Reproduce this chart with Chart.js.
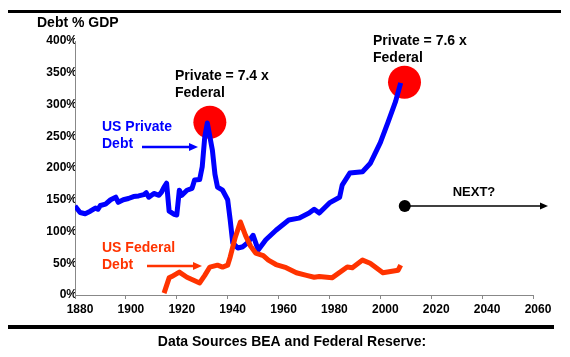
<!DOCTYPE html>
<html><head><meta charset="utf-8">
<script src="https://cdn.jsdelivr.net/npm/chart.js@4.4.0/dist/chart.umd.min.js"></script>
<style>html,body{margin:0;padding:0;background:#fff;overflow:hidden}canvas{display:block}</style>
</head><body>
<canvas id="c" width="570" height="357"></canvas>
<script>
// ---- data ----
const privateYears = [1880,1882,1884,1886,1888,1889,1890,1892,1894,1896,1897,1899,1901,1903,1905,1907,1908,1909,1911,1913,1914,1915,1916,1917,1919,1920,1921,1922,1924,1926,1927,1929,1930,1931,1932,1934,1935,1936,1938,1940,1941,1942,1944,1946,1948,1950,1952,1955,1959,1964,1968,1972,1974,1976,1980,1984,1985,1988,1993,1996,2000,2003,2006,2008];
const privateDebt  = [140,130,128,132,137,135,141,143,150,154,146,150,152,155,156,158,161,154,160,157,162,170,176,132,127,126,165,157,165,168,181,182,202,249,271,228,190,170,165,150,118,82,74,76,83,94,71,87,102,118,121,129,135,129,145,154,173,192,194,207,240,272,305,334];
const federalYears = [1915,1917,1918,1921,1924,1929,1931,1933,1936,1938,1940,1941,1943,1945,1947,1949,1951,1954,1956,1959,1963,1967,1971,1974,1976,1981,1987,1989,1993,1996,2001,2004,2007,2008];
const federalDebt  = [3,27,29,36,28,19,31,44,47,44,47,60,91,115,94,77,66,62,55,48,43,35,31,28,29,27,44,43,55,50,35,37,39,47];
const xTickValues = [1880,1900,1920,1940,1960,1980,2000,2020,2040,2060];
const yTickValues = [0,50,100,150,200,250,300,350,400];
const peakYears  = [1933, 2009.5];
const peakValues = [272, 335];
const nextYear = 2009.6, nextValue = 140;

const FONT = '"Liberation Sans", Arial, Helvetica, sans-serif';

function arrow(ctx, x1, y1, x2, y2, color, lw, hl, hw){
  ctx.strokeStyle = color; ctx.fillStyle = color; ctx.lineWidth = lw;
  ctx.beginPath(); ctx.moveTo(x1, y1); ctx.lineTo(x2 - hl + 1, y2); ctx.stroke();
  ctx.beginPath(); ctx.moveTo(x2, y2); ctx.lineTo(x2 - hl, y2 - hw); ctx.lineTo(x2 - hl, y2 + hw); ctx.closePath(); ctx.fill();
}

const annot = {
  id: 'annot',
  beforeDatasetsDraw(chart){
    const ctx = chart.ctx, xs = chart.scales.x, ys = chart.scales.y;
    ctx.save();
    ctx.fillStyle = '#FF0000';
    peakYears.forEach((yr, i) => {
      ctx.beginPath();
      ctx.arc(xs.getPixelForValue(yr), ys.getPixelForValue(peakValues[i]), 16.5, 0, Math.PI * 2);
      ctx.fill();
    });
    ctx.restore();
  },
  afterDraw(chart){
    const ctx = chart.ctx, xs = chart.scales.x, ys = chart.scales.y;
    ctx.save();
    ctx.fillStyle = '#000';
    ctx.fillRect(8, 10, 553, 3);
    ctx.fillRect(8, 325, 546, 4);
    ctx.textBaseline = 'middle';
    ctx.textAlign = 'left';
    ctx.font = 'bold 14px ' + FONT;
    ctx.fillText('Debt % GDP', 37, 23);
    ctx.fillText('Private = 7.4 x', 175, 76);
    ctx.fillText('Federal', 175, 93);
    ctx.fillText('Private = 7.6 x', 373, 41);
    ctx.fillText('Federal', 373, 58);
    ctx.fillStyle = '#0000FF';
    ctx.fillText('US Private', 102, 127);
    ctx.fillText('Debt', 102, 144);
    ctx.fillStyle = '#FF3300';
    ctx.fillText('US Federal', 102, 248);
    ctx.fillText('Debt', 102, 265);
    ctx.fillStyle = '#000';
    ctx.textAlign = 'center';
    ctx.fillText('Data Sources BEA and Federal Reserve:', 292, 342);
    ctx.font = 'bold 13px ' + FONT;
    ctx.fillText('NEXT?', 474, 192);
    arrow(ctx, 142, 147, 198, 147, '#0000FF', 2.5, 9, 4);
    arrow(ctx, 147, 266, 202, 266, '#FF3300', 2.5, 9, 4);
    const nx = xs.getPixelForValue(nextYear), ny = ys.getPixelForValue(nextValue);
    arrow(ctx, nx, ny, 548, ny, '#000', 1.5, 8, 3.5);
    ctx.fillStyle = '#000';
    ctx.beginPath(); ctx.arc(nx, ny, 6, 0, Math.PI * 2); ctx.fill();
    ctx.restore();
  }
};

new Chart(document.getElementById('c'), {
  type: 'line',
  data: {
    datasets: [
      { label: 'US Federal Debt', data: federalYears.map((x, i) => ({x, y: federalDebt[i]})),
        borderColor: '#FF3300', borderWidth: 5, pointRadius: 0, tension: 0, order: 0,
        borderJoinStyle: 'round', fill: false },
      { label: 'US Private Debt', data: privateYears.map((x, i) => ({x, y: privateDebt[i]})),
        borderColor: '#0000FF', borderWidth: 5, pointRadius: 0, tension: 0, order: 1,
        borderJoinStyle: 'round', fill: false }
    ]
  },
  options: {
    responsive: false, animation: false, devicePixelRatio: 1,
    layout: { padding: { top: 41, right: 37, bottom: 0, left: 0 } },
    plugins: { legend: { display: false }, tooltip: { enabled: false } },
    scales: {
      x: {
        type: 'linear', min: 1880, max: 2060,
        afterBuildTicks: s => { s.ticks = xTickValues.map(v => ({value: v})); },
        afterFit: s => { s.height = 62; },
        grid: { display: true, drawOnChartArea: false, drawTicks: true, tickLength: 4, color: '#888' },
        border: { display: true, color: '#888', dash: [2, 2], width: 1 },
        ticks: { color: '#000', font: { family: FONT, size: 12, weight: 'bold' }, padding: 3, labelOffset: 5, maxRotation: 0, autoSkip: false, callback: v => String(v) }
      },
      y: {
        min: 0, max: 400,
        afterBuildTicks: s => { s.ticks = yTickValues.map(v => ({value: v})); },
        afterFit: s => { s.width = 75; },
        grid: { display: false, drawTicks: false },
        border: { display: true, color: '#888', dash: [2, 2], width: 1 },
        ticks: { color: '#000', font: { family: FONT, size: 12, weight: 'bold' }, padding: -2, callback: v => v + '%' }
      }
    }
  },
  plugins: [annot]
});
</script>
</body></html>
